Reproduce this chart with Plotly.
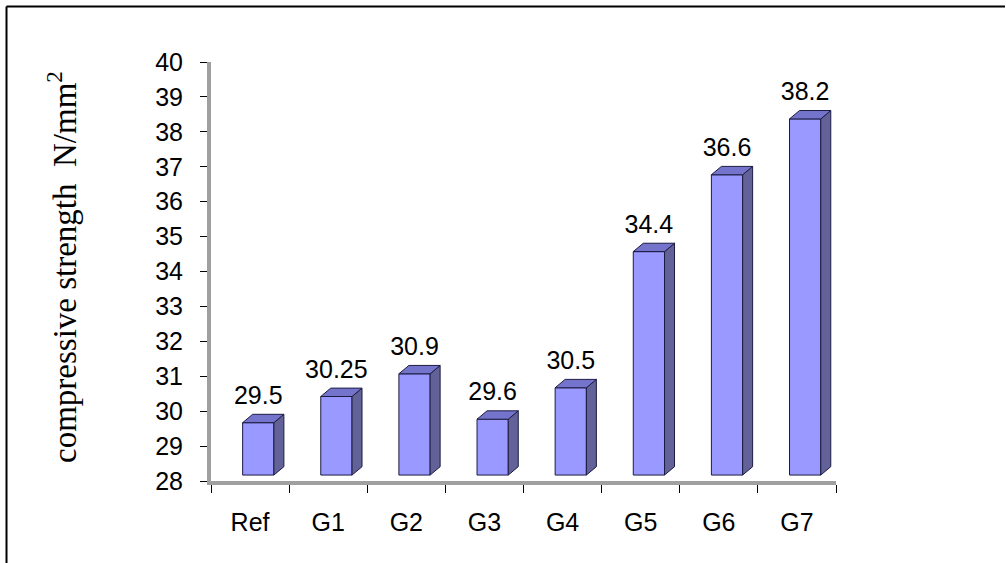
import plotly.graph_objects as go

# Data
categories = ["Ref", "G1", "G2", "G3", "G4", "G5", "G6", "G7"]
strength = [29.5, 30.25, 30.9, 29.6, 30.5, 34.4, 36.6, 38.2]
y_ticks = list(range(28, 41))

# 3-D bar styling (in axis units)
FLOOR = 28
LIFT = 0.17        # front face raised above the floor line
BAR_W = 0.4        # front face width
BAR_OFF = -0.095   # left edge relative to category centre
DX = 0.128         # depth offset, x
DY = 0.24          # depth offset, y
LABEL_GAP = 0.12   # extra space between bar top and its value label

FRONT = "#9999FF"
SIDE = "#626299"
TOP = "#7474CC"
EDGE = "#1c1c40"

W, H = 1006, 563
L, R, T, B = 211, 170, 62, 82

fig = go.Figure()

xs = list(range(len(categories)))

# front faces
fig.add_trace(go.Bar(
    x=xs,
    y=[v - FLOOR for v in strength],
    base=FLOOR + LIFT,
    width=BAR_W,
    offset=BAR_OFF,
    marker=dict(color=FRONT, line=dict(color=EDGE, width=1)),
    hoverinfo="skip",
    showlegend=False,
))

# side and top faces
for i, v in enumerate(strength):
    x0 = i + BAR_OFF
    x1 = x0 + BAR_W
    b = FLOOR + LIFT
    t = v + LIFT
    fig.add_trace(go.Scatter(
        x=[x1, x1 + DX, x1 + DX, x1, x1],
        y=[b, b + DY, t + DY, t, b],
        mode="lines", fill="toself", fillcolor=SIDE,
        line=dict(color=EDGE, width=1),
        hoverinfo="skip", showlegend=False,
    ))
    fig.add_trace(go.Scatter(
        x=[x0, x0 + DX, x1 + DX, x1, x0],
        y=[t, t + DY, t + DY, t, t],
        mode="lines", fill="toself", fillcolor=TOP,
        line=dict(color=EDGE, width=1),
        hoverinfo="skip", showlegend=False,
    ))

# value labels
fig.add_trace(go.Scatter(
    x=[i + BAR_OFF + BAR_W / 2 for i in xs],
    y=[v + LIFT + DY + LABEL_GAP for v in strength],
    mode="text",
    text=[f"{v:g}" for v in strength],
    textposition="top center",
    textfont=dict(family="Liberation Sans, Arial", size=25, color="black"),
    hoverinfo="skip", showlegend=False,
))

pw = W - L - R
ph = H - T - B


def px_x(p):
    return (p - L) / pw


def px_y(p):
    return 1 - (p - T) / ph


fig.update_layout(
    width=W, height=H,
    margin=dict(l=L, r=R, t=T, b=B),
    paper_bgcolor="white",
    plot_bgcolor="white",
    font=dict(family="Liberation Sans, Arial", size=25, color="black"),
    xaxis=dict(
        range=[-0.5, len(categories) - 0.5],
        tickmode="array",
        tickvals=xs,
        ticktext=categories,
        ticks="",
        showgrid=False,
        zeroline=False,
        showline=True,
        linecolor="#a0a0a0",
        linewidth=4,
        ticklabelstandoff=16,
        tickfont=dict(size=25),
        minor=dict(
            tickmode="linear",
            tick0=-0.5,
            dtick=1,
            ticks="outside",
            ticklen=8,
            tickwidth=1,
            tickcolor="black",
            showgrid=False,
        ),
    ),
    yaxis=dict(
        range=[28, 40],
        tickmode="array",
        tickvals=y_ticks,
        ticks="outside",
        ticklen=7,
        tickwidth=1,
        tickcolor="black",
        showgrid=False,
        zeroline=False,
        showline=True,
        linecolor="#a0a0a0",
        linewidth=4,
        ticklabelstandoff=12,
        tickfont=dict(size=25),
    ),
    annotations=[dict(
        text="compressive strength  N/mm<sup>2</sup>",
        textangle=-90,
        xref="paper", yref="paper",
        x=px_x(62), y=px_y(267),
        xanchor="center", yanchor="middle",
        showarrow=False,
        font=dict(family="Liberation Serif, Times New Roman", size=33, color="black"),
    )],
    shapes=[
        dict(type="line", xref="paper", yref="paper",
             x0=px_x(6.5), x1=px_x(1005), y0=px_y(6.5), y1=px_y(6.5),
             line=dict(color="black", width=2)),
        dict(type="line", xref="paper", yref="paper",
             x0=px_x(6.5), x1=px_x(6.5), y0=px_y(6.5), y1=px_y(563),
             line=dict(color="black", width=2)),
    ],
)

fig.write_html("out.html")
